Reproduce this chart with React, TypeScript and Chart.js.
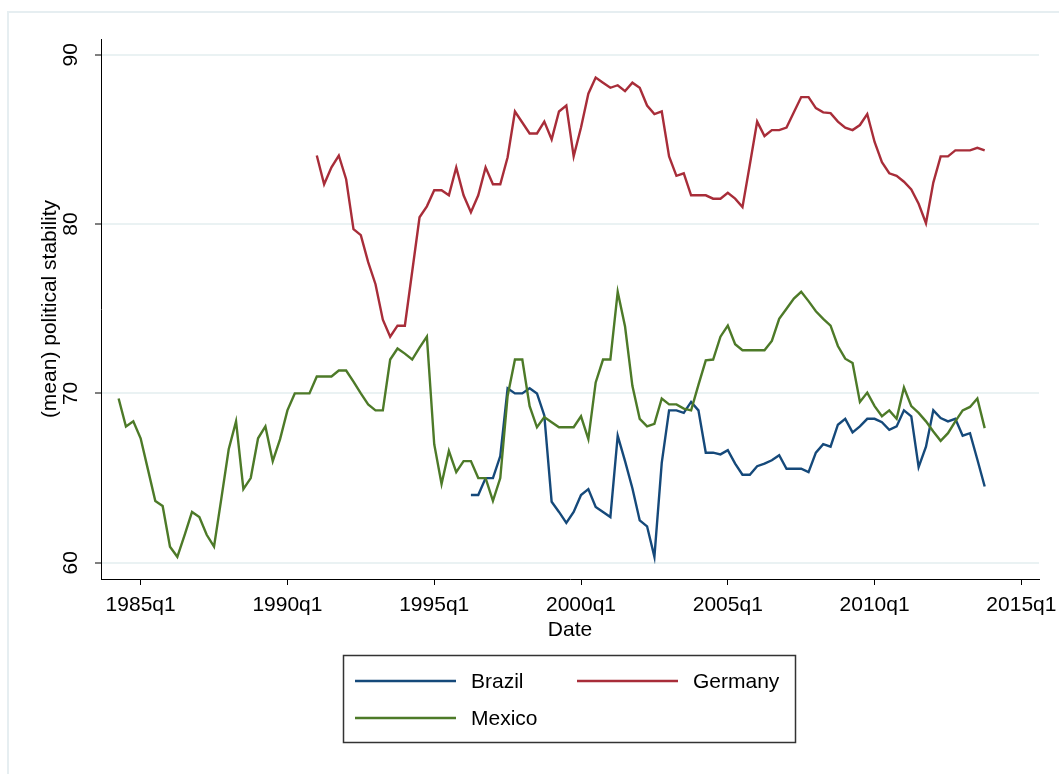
import React, { useEffect, useRef } from 'react';
import { Chart, registerables } from 'chart.js';

Chart.register(...registerables);

// ---- data (quarterly) ----
const xTickLabels = ['1985q1', '1990q1', '1995q1', '2000q1', '2005q1', '2010q1', '2015q1'];
const yTickValues = [60, 70, 80, 90];
const seriesNames = ['Brazil', 'Germany', 'Mexico'];
const seriesColors = ['#15497a', '#a82d39', '#4d7a28'];

const brazilStart = '1996q2';
const brazilValues = [
  64.0, 64.0, 65.0, 65.0, 66.3, 70.3, 70.0, 70.0, 70.3, 70.0,
  68.7, 63.6, 63.0, 62.35, 63.0, 64.0, 64.35, 63.3, 63.0, 62.7,
  67.5, 66.0, 64.4, 62.5, 62.15, 60.35, 65.9, 69.0, 69.0, 68.85,
  69.5, 69.0, 66.5, 66.5, 66.4, 66.65, 65.85, 65.2, 65.2, 65.7,
  65.85, 66.05, 66.35, 65.55, 65.55, 65.55, 65.35, 66.5, 67.0, 66.85,
  68.15, 68.5, 67.7, 68.05, 68.5, 68.5, 68.3, 67.85, 68.05, 69.0,
  68.65, 65.65, 66.85, 69.0, 68.55, 68.35, 68.5, 67.5, 67.65, 66.1, 64.5,
];

const germanyStart = '1991q1';
const germanyValues = [
  84.05, 82.35, 83.35, 84.05, 82.65, 79.7, 79.35, 77.75, 76.45, 74.35,
  73.35, 74.0, 74.0, 77.2, 80.4, 81.05, 82.0, 82.0, 81.7, 83.35,
  81.7, 80.7, 81.7, 83.35, 82.35, 82.35, 83.95, 86.65, 86.0, 85.35,
  85.35, 86.05, 85.0, 86.65, 87.0, 84.0, 85.7, 87.7, 88.65, 88.35,
  88.05, 88.2, 87.85, 88.35, 88.05, 87.0, 86.5, 86.65, 84.0, 82.85,
  83.0, 81.7, 81.7, 81.7, 81.5, 81.5, 81.85, 81.5, 81.0, 83.5,
  86.05, 85.2, 85.55, 85.55, 85.7, 86.6, 87.5, 87.5, 86.85, 86.6,
  86.55, 86.05, 85.7, 85.55, 85.85, 86.5, 84.85, 83.65, 83.0, 82.85,
  82.5, 82.05, 81.2, 80.05, 82.45, 84.0, 84.0, 84.35, 84.35, 84.35, 84.5, 84.35,
];

const mexicoStart = '1984q2';
const mexicoValues = [
  69.7, 68.05, 68.35, 67.35, 65.5, 63.65, 63.35, 60.95, 60.35, 61.65,
  63.0, 62.7, 61.65, 60.95, 63.8, 66.7, 68.35, 64.35, 65.0, 67.35,
  68.05, 66.0, 67.3, 69.0, 70.0, 70.0, 70.0, 71.0, 71.0, 71.0,
  71.35, 71.35, 70.7, 70.0, 69.35, 69.0, 69.0, 72.0, 72.65, 72.35,
  72.0, 72.7, 73.35, 67.0, 64.65, 66.6, 65.35, 66.0, 66.0, 65.0,
  65.0, 63.65, 65.0, 69.85, 72.0, 72.0, 69.25, 68.0, 68.6, 68.3,
  68.0, 68.0, 68.0, 68.65, 67.3, 70.65, 72.0, 72.0, 76.0, 73.95,
  70.45, 68.5, 68.05, 68.2, 69.7, 69.35, 69.35, 69.1, 69.0, 70.5,
  71.95, 72.0, 73.35, 74.0, 72.9, 72.55, 72.55, 72.55, 72.55, 73.1,
  74.4, 75.0, 75.6, 76.0, 75.45, 74.85, 74.4, 74.0, 72.8, 72.05,
  71.8, 69.5, 70.05, 69.25, 68.65, 69.0, 68.5, 70.35, 69.25, 68.85,
  68.35, 67.75, 67.2, 67.65, 68.35, 69.0, 69.2, 69.7, 67.95,
];

const FONT = '"Liberation Sans", Arial, Helvetica, sans-serif';

function qIndex(s: string): number {
  const [y, q] = s.split('q');
  return Number(y) * 4 + (Number(q) - 1);
}
function qLabel(v: number): string {
  const y = Math.floor(v / 4);
  const q = Math.round(v - y * 4) + 1;
  return `${y}q${q}`;
}
function toPoints(start: string, values: number[]) {
  const s = qIndex(start);
  return values.map((v, i) => ({ x: s + i, y: v }));
}

const xTickValues = xTickLabels.map(qIndex);
const firstTick = xTickValues[0];
const xMin = firstTick - 5.4;
const xMax = firstTick + 122.4;

const framePlugin = {
  id: 'frameAndLegend',
  afterDraw(chart: any) {
    const ctx = chart.ctx as CanvasRenderingContext2D;
    ctx.save();
    // outer graph region frame
    ctx.strokeStyle = '#e6eef1';
    ctx.lineWidth = 2;
    ctx.strokeRect(8, 12, 1200, 900);

    // legend box
    ctx.strokeStyle = '#333333';
    ctx.lineWidth = 1.5;
    ctx.strokeRect(343.5, 655.5, 452, 87);

    const slots = [
      { x: 355, y: 681 },
      { x: 577, y: 681 },
      { x: 355, y: 718 },
    ];
    ctx.font = `21px ${FONT}`;
    ctx.textBaseline = 'middle';
    ctx.textAlign = 'left';
    chart.data.datasets.forEach((ds: any, i: number) => {
      const s = slots[i];
      ctx.strokeStyle = ds.borderColor;
      ctx.lineWidth = 2.5;
      ctx.beginPath();
      ctx.moveTo(s.x, s.y);
      ctx.lineTo(s.x + 101, s.y);
      ctx.stroke();
      ctx.fillStyle = '#000';
      ctx.fillText(ds.label, s.x + 116, s.y + 1);
    });
    ctx.restore();
  },
};

export default function App() {
  const ref = useRef<HTMLCanvasElement | null>(null);

  useEffect(() => {
    document.body.style.margin = '0';
    const canvas = ref.current;
    if (!canvas) return;
    Chart.defaults.font.family = FONT;
    const seriesData = [
      toPoints(brazilStart, brazilValues),
      toPoints(germanyStart, germanyValues),
      toPoints(mexicoStart, mexicoValues),
    ];
    const chart = new Chart(canvas, {
      type: 'line',
      data: {
        datasets: seriesNames.map((name, i) => ({
          label: name,
          data: seriesData[i],
          borderColor: seriesColors[i],
          backgroundColor: seriesColors[i],
          borderWidth: 2.4,
          pointRadius: 0,
          tension: 0,
          fill: false,
          order: seriesNames.length - i,
        })),
      },
      options: {
        animation: false,
        responsive: false,
        maintainAspectRatio: false,
        layout: { padding: { left: 0, right: 20, top: 39, bottom: 0 } },
        plugins: {
          legend: { display: false },
          tooltip: { enabled: false },
        },
        scales: {
          x: {
            type: 'linear',
            min: xMin,
            max: xMax,
            afterBuildTicks: (scale: any) => {
              scale.ticks = xTickValues.map((v) => ({ value: v }));
            },
            afterFit: (scale: any) => {
              scale.height = 195;
              scale.paddingLeft = 0;
              scale.paddingRight = 0;
            },
            grid: {
              display: true,
              drawOnChartArea: false,
              drawTicks: true,
              tickLength: 6,
              tickColor: '#000',
              tickWidth: 1,
            },
            border: { display: true, color: '#000', width: 1 },
            ticks: {
              color: '#000',
              font: { size: 21, family: FONT },
              padding: 8,
              maxRotation: 0,
              minRotation: 0,
              autoSkip: false,
              callback: (v: any) => qLabel(Number(v)),
            },
            title: {
              display: true,
              text: 'Date',
              color: '#000',
              font: { size: 21, family: FONT },
              padding: { top: 0, bottom: 131.4 },
            },
          },
          y: {
            type: 'linear',
            min: 59.04,
            max: 90.93,
            afterBuildTicks: (scale: any) => {
              scale.ticks = yTickValues.map((v) => ({ value: v }));
            },
            afterFit: (scale: any) => {
              scale.width = 101;
              scale.paddingTop = 0;
              scale.paddingBottom = 0;
            },
            grid: {
              display: true,
              drawOnChartArea: true,
              color: '#eaf2f3',
              lineWidth: 2,
              drawTicks: true,
              tickLength: 6,
              tickColor: '#000',
              tickWidth: 1,
            },
            border: { display: true, color: '#000', width: 1 },
            ticks: {
              color: '#000',
              font: { size: 21, family: FONT },
              minRotation: 90,
              maxRotation: 90,
              crossAlign: 'center',
              padding: 11.8,
              autoSkip: false,
              callback: (v: any) => String(v),
            },
            title: {
              display: true,
              text: '(mean) political stability',
              color: '#000',
              font: { size: 21, family: FONT },
              padding: { top: 37.5, bottom: 0 },
            },
          },
        },
      },
      plugins: [framePlugin],
    } as any);
    return () => chart.destroy();
  }, []);

  return (
    <div style={{ position: 'fixed', left: 0, top: 0, width: 1059, height: 774, background: '#fff' }}>
      <canvas ref={ref} width={1059} height={774} style={{ display: 'block', width: 1059, height: 774 }} />
    </div>
  );
}
